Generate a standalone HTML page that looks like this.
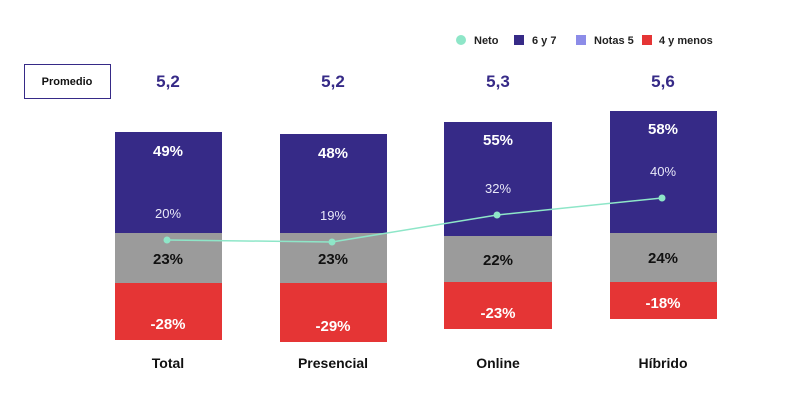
<!DOCTYPE html>
<html><head><meta charset="utf-8"><style>
html,body{margin:0;padding:0;background:#fff;}
svg{display:block;font-family:"Liberation Sans",sans-serif;}
</style></head><body>
<svg width="800" height="415" viewBox="0 0 800 415">
<!-- legend -->
<circle cx="461" cy="40" r="5" fill="#8ee6c8"/>
<text x="474" y="44" font-size="11" font-weight="bold" fill="#222">Neto</text>
<rect x="514" y="35" width="10" height="10" fill="#362a87"/>
<text x="532" y="44" font-size="11" font-weight="bold" fill="#222">6 y 7</text>
<rect x="576" y="35" width="10" height="10" fill="#8c8ce8"/>
<text x="594" y="44" font-size="11" font-weight="bold" fill="#222">Notas 5</text>
<rect x="642" y="35" width="10" height="10" fill="#e53535"/>
<text x="659" y="44" font-size="11" font-weight="bold" fill="#222">4 y menos</text>
<!-- promedio -->
<rect x="24.5" y="64.5" width="86" height="34" fill="#fff" stroke="#362a87" stroke-width="1"/>
<text x="67" y="85" font-size="11" font-weight="bold" text-anchor="middle" fill="#111">Promedio</text>
<g font-size="17" font-weight="bold" fill="#362a87" text-anchor="middle">
<text x="168" y="87">5,2</text><text x="333" y="87">5,2</text><text x="498" y="87">5,3</text><text x="663" y="87">5,6</text>
</g>
<!-- bars -->
<g>
<rect x="115" y="132" width="107" height="101" fill="#362a87"/><rect x="115" y="233" width="107" height="50" fill="#9b9b9b"/><rect x="115" y="283" width="107" height="57" fill="#e53535"/>
<rect x="280" y="134" width="107" height="99" fill="#362a87"/><rect x="280" y="233" width="107" height="50" fill="#9b9b9b"/><rect x="280" y="283" width="107" height="59" fill="#e53535"/>
<rect x="444" y="122" width="108" height="114" fill="#362a87"/><rect x="444" y="236" width="108" height="46" fill="#9b9b9b"/><rect x="444" y="282" width="108" height="47" fill="#e53535"/>
<rect x="610" y="111" width="107" height="122" fill="#362a87"/><rect x="610" y="233" width="107" height="49" fill="#9b9b9b"/><rect x="610" y="282" width="107" height="37" fill="#e53535"/>
</g>
<g font-size="15" font-weight="bold" text-anchor="middle" fill="#fff">
<text x="168" y="156">49%</text><text x="333" y="158">48%</text><text x="498" y="145">55%</text><text x="663" y="134">58%</text>
<text x="168" y="329">-28%</text><text x="333" y="331">-29%</text><text x="498" y="318">-23%</text><text x="663" y="308">-18%</text>
</g>
<g font-size="15" font-weight="bold" text-anchor="middle" fill="#111">
<text x="168" y="264">23%</text><text x="333" y="264">23%</text><text x="498" y="265">22%</text><text x="663" y="263">24%</text>
</g>
<g font-size="13" text-anchor="middle" fill="#e8e8f8">
<text x="168" y="218">20%</text><text x="333" y="220">19%</text><text x="498" y="193">32%</text><text x="663" y="176">40%</text>
</g>
<polyline points="167,240 332,242 497,215 662,198" fill="none" stroke="#8ee6c8" stroke-width="1.5"/>
<g fill="#8ee6c8"><circle cx="167" cy="240" r="3.5"/><circle cx="332" cy="242" r="3.5"/><circle cx="497" cy="215" r="3.5"/><circle cx="662" cy="198" r="3.5"/></g>
<g font-size="14" font-weight="bold" text-anchor="middle" fill="#111">
<text x="168" y="368">Total</text><text x="333" y="368">Presencial</text><text x="498" y="368">Online</text><text x="663" y="368">Híbrido</text>
</g>
</svg>
</body></html>
